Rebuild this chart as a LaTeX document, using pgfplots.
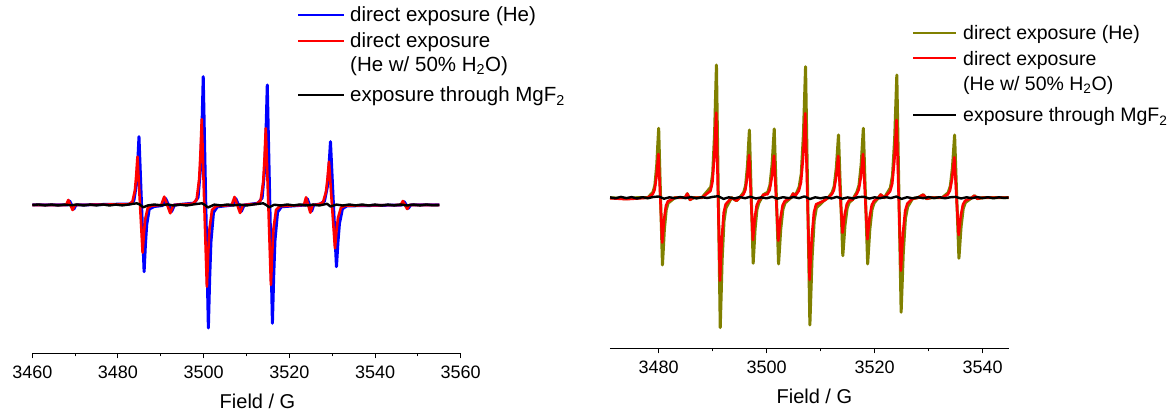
\documentclass[border=0pt]{standalone}
\usepackage{fontspec}
\setmainfont{Liberation Sans}
\usepackage{pgfplots}
\pgfplotsset{compat=1.18}
\definecolor{eblue}{RGB}{0,0,255}
\definecolor{ered}{RGB}{255,0,0}
\definecolor{eolive}{RGB}{128,128,0}
\pgfplotsset{eprax/.style={
  scale only axis, anchor=south west,
  axis x line*=bottom, hide y axis,
  axis line style={line width=1pt, black},
  tick align=outside, major tick length=5pt, minor tick length=3pt,
  every tick/.style={line width=1pt, black},
  minor x tick num=1,
  xticklabel style={font=\fontsize{18}{20}\selectfont, yshift=-4pt},
  /pgf/number format/assume math mode=true,
  /pgf/number format/1000 sep={},
  xlabel={Field / G},
  every axis plot/.append style={line join=round},
  clip=false,
}}
\begin{document}
\begin{tikzpicture}
\useasboundingbox (0,0) rectangle (1171pt,411pt);
% ---------------- left panel ----------------
\begin{axis}[eprax,
  at={(32.3pt,57.7pt)}, width=428.4pt, height=343.3pt,
  xmin=3460, xmax=3560, ymin=-148.3, ymax=195,
  xtick={3460,3480,3500,3520,3540,3560},
  xlabel style={font=\fontsize{20}{24}\selectfont, at={(axis description cs:0.5257,0)}, anchor=base, yshift=-55.7pt},
]
\addplot[eblue, line width=3pt] coordinates {
(3460,0) (3468.2,0) (3468.7,4) (3469.2,0) (3469.7,-4) (3470.2,0)
(3482.8,1.0) (3483.7,4.1) (3484.3,20.5) (3484.6,41.0) (3484.9,68.3) (3485.5,0) (3486.1,-66.7) (3486.4,-40.0) (3486.7,-20.0) (3487.3,-4.0) (3488.5,-1.5)
(3490.4,-0.5) (3491.1,6.6) (3491.8,0) (3492.5,-6.6) (3493.2,0)
(3497.8,1.9) (3498.7,7.7) (3499.3,38.5) (3499.6,77.0) (3499.9,128.3) (3500.5,0) (3501.1,-123) (3501.4,-73.8) (3501.7,-36.9) (3502.3,-7.4) (3503.2,-1.8)
(3506.85,0) (3507.5,6.4) (3508.15,0) (3508.8,-6.4) (3509.45,0)
(3512.75,1.8) (3513.65,7.2) (3514.25,36) (3514.55,72) (3514.85,120) (3515.45,0) (3516.05,-118.3) (3516.35,-71) (3516.65,-35.5) (3517.25,-7.1) (3518.15,-1.8)
(3523.7,0) (3524.2,6.2) (3524.7,0) (3525.2,-6.2) (3525.7,0)
(3527.15,0.9) (3528.2,3.8) (3528.9,19.0) (3529.25,38.0) (3529.6,63.3) (3530.3,0) (3531.0,-61.7) (3531.35,-37.0) (3531.7,-18.5) (3532.4,-3.7) (3533.45,-0.9)
(3546.3,0) (3546.8,3.2) (3547.3,0) (3547.8,-3.2) (3548.3,0) (3555,0)
};
\addplot[ered, line width=2.6pt] coordinates {
(3460,0) (3467.9,0) (3468.4,5) (3468.9,0) (3469.4,-5) (3469.9,0)
(3482.45,0.7) (3483.35,2.9) (3483.95,14.5) (3484.25,29.0) (3484.55,48.3) (3485.15,0) (3485.75,-47.7) (3486.05,-28.6) (3486.35,-14.3) (3486.95,-2.9) (3487.85,-0.7)
(3490.1,0) (3490.8,8.3) (3491.5,0) (3492.2,-8.3) (3492.9,0)
(3497.45,1.3) (3498.35,5.1) (3498.95,25.7) (3499.25,51.4) (3499.55,85.7) (3500.15,0) (3500.75,-81.7) (3501.05,-49.0) (3501.35,-24.5) (3501.95,-4.9) (3502.85,-1.2)
(3506.55,0) (3507.2,8) (3507.85,0) (3508.5,-8) (3509.15,0)
(3512.4,1.2) (3513.3,4.6) (3513.9,23.0) (3514.2,46.0) (3514.5,76.7) (3515.1,0) (3515.7,-80) (3516.0,-48) (3516.3,-24) (3516.9,-4.8) (3517.8,-1.2)
(3523.4,0) (3523.9,7.7) (3524.4,0) (3524.9,-7.7) (3525.4,0)
(3526.8,0.6) (3527.85,2.6) (3528.55,13.0) (3528.9,26.0) (3529.25,43.3) (3529.95,0) (3530.65,-43.3) (3531.0,-26.0) (3531.35,-13.0) (3532.05,-2.6) (3533.1,-0.6)
(3546,0) (3546.5,4) (3547,0) (3547.5,-4) (3548,0) (3555,0)
};
\addplot[black, line width=2.4pt] coordinates {
(3460,0) (3461.5,0.5) (3463,-0.4) (3464.5,0.5) (3466,-0.5) (3467.5,0.4) (3469,-0.3) (3470.5,0.5) (3472,-0.5) (3473.5,0.4) (3475,-0.4) (3476.5,0.5) (3478,-0.5) (3479.5,0.4) (3481,-0.4) (3482.5,0.5)
(3484.4,1.7) (3485.1,0.5) (3485.9,-2.3) (3487,-0.4) (3488.5,0.5) (3490,-0.4) (3491.5,0.6) (3493,-0.5) (3494.5,0.4) (3496,-0.5) (3497.5,0.5)
(3499.6,1.7) (3500.3,0) (3501,-2.5) (3502.5,0.4) (3504,-0.5) (3505.5,0.5) (3507,-0.4) (3508.5,0.4) (3510,-0.5) (3511.5,0.5)
(3513.9,1.7) (3514.6,0) (3515.3,-2.3) (3516.5,0.3) (3518,-0.5) (3519.5,0.5) (3521,-0.4) (3522.5,0.5) (3524,-0.5) (3525.5,0.4) (3527,-0.5)
(3528.8,1.2) (3529.6,-1.5) (3531,0.4) (3532.5,-0.5) (3534,0.5) (3535.5,-0.4) (3537,0.5) (3538.5,-0.5) (3540,0.4) (3541.5,-0.5) (3543,0.4) (3544.5,-0.4) (3546,0.5) (3547.5,-0.5) (3549,0.4) (3550.5,-0.4) (3552,0.5) (3553.5,-0.3) (3555,0)
};
\end{axis}
% ---------------- right panel ----------------
\begin{axis}[eprax,
  at={(609.8pt,62.7pt)}, width=398.8pt, height=338.3pt,
  xmin=3470.95, xmax=3544.8, ymin=-150.6, ymax=187.7,
  xtick={3480,3500,3520,3540},
  xlabel style={font=\fontsize{20}{24}\selectfont, at={(axis description cs:0.513,0)}, anchor=base, yshift=-55.7pt},
]
\addplot[eolive, line width=3pt] coordinates {
(3471,0) (3474,-1) (3476,0) (3478,0)
(3478.95,5.6) (3479.3,12.5) (3479.65,33.3) (3479.82,51.4) (3480.0,69.4) (3480.35,0) (3480.7,-67.3) (3480.88,-49.8) (3481.05,-32.3) (3481.4,-12.1) (3481.75,-5.4)
(3483,0) (3484.9,0) (3485.3,4) (3485.8,-2) (3486.5,0) (3488,0)
(3489.65,10.6) (3490.0,23.9) (3490.35,63.7) (3490.52,98.2) (3490.7,132.7) (3491.05,0) (3491.4,-130) (3491.58,-96.2) (3491.75,-62.4) (3492.1,-23.4) (3492.45,-10.4)
(3493.5,0) (3494.4,-3) (3495.0,0)
(3495.75,5.4) (3496.1,12.2) (3496.45,32.5) (3496.62,50.1) (3496.8,67.7) (3497.15,0) (3497.5,-65.6) (3497.68,-48.5) (3497.85,-31.5) (3498.2,-11.8) (3498.55,-5.2)
(3499.4,3)
(3500.2,5.5) (3500.6,12.4) (3501.0,33.0) (3501.2,50.8) (3501.4,68.7) (3501.8,0) (3502.2,-66.3) (3502.4,-49.1) (3502.6,-31.8) (3503.0,-11.9) (3503.4,-5.3)
(3504.5,0) (3504.9,4) (3505.3,2)
(3506.0,10.5) (3506.4,23.6) (3506.8,62.9) (3507.0,96.9) (3507.2,131) (3507.6,0) (3508.0,-127.3) (3508.2,-94.2) (3508.4,-61.1) (3508.8,-22.9) (3509.2,-10.2)
(3510.6,-3) (3511.4,0)
(3512.1,5.0) (3512.5,11.3) (3512.9,30.1) (3513.1,46.4) (3513.3,62.7) (3513.7,0) (3514.1,-58) (3514.3,-42.9) (3514.5,-27.8) (3514.9,-10.4) (3515.3,-4.6)
(3515.9,-2)
(3516.7,5.6) (3517.1,12.5) (3517.5,33.3) (3517.7,51.4) (3517.9,69.4) (3518.3,0) (3518.7,-66.3) (3518.9,-49.1) (3519.1,-31.8) (3519.5,-11.9) (3519.9,-5.3)
(3520.7,0) (3521.1,3) (3521.8,0)
(3522.9,9.8) (3523.3,22.1) (3523.7,58.9) (3523.9,90.8) (3524.1,122.7) (3524.5,0) (3524.9,-114.6) (3525.1,-84.8) (3525.3,-55.0) (3525.7,-20.6) (3526.1,-9.2)
(3527,-1) (3528,0) (3529,3) (3529.6,-1) (3530.5,0) (3532.5,0)
(3533.6,5.0) (3534.0,11.3) (3534.4,30.1) (3534.6,46.4) (3534.8,62.7) (3535.2,0) (3535.6,-60.6) (3535.8,-44.8) (3536.0,-29.1) (3536.4,-10.9) (3536.8,-4.8)
(3538,0) (3538.5,2) (3539,-1) (3540,0) (3544.8,0)
};
\addplot[ered, line width=2.6pt] coordinates {
(3471,-0.5) (3474,-1.5) (3476,-0.8) (3478,0)
(3478.9,3.5) (3479.25,7.9) (3479.6,21.0) (3479.77,32.3) (3479.95,43.7) (3480.3,0) (3480.65,-44.9) (3480.83,-33.2) (3481.0,-21.6) (3481.35,-8.1) (3481.7,-3.6)
(3483,0) (3484.9,0) (3485.3,4) (3485.8,-2) (3486.5,0) (3488,0)
(3489.6,6.8) (3489.95,15.3) (3490.3,40.8) (3490.47,62.9) (3490.65,85) (3491.0,0) (3491.35,-83) (3491.53,-61.4) (3491.7,-39.8) (3492.05,-14.9) (3492.4,-6.6)
(3493.5,0) (3494.4,-3) (3495.0,0)
(3495.7,3.4) (3496.05,7.7) (3496.4,20.5) (3496.57,31.6) (3496.75,42.7) (3497.1,0) (3497.45,-42.3) (3497.63,-31.3) (3497.8,-20.3) (3498.15,-7.6) (3498.5,-3.4)
(3499.4,3)
(3500.15,3.4) (3500.55,7.6) (3500.95,20.2) (3501.15,31.1) (3501.35,42) (3501.75,0) (3502.15,-43) (3502.35,-31.8) (3502.55,-20.6) (3502.95,-7.7) (3503.35,-3.4)
(3504.5,0) (3504.9,4) (3505.3,2)
(3505.95,6.8) (3506.35,15.2) (3506.75,40.5) (3506.95,62.5) (3507.15,84.4) (3507.55,0) (3507.95,-82.3) (3508.15,-60.9) (3508.35,-39.5) (3508.75,-14.8) (3509.15,-6.6)
(3510.6,-3) (3511.4,0)
(3512.05,3.3) (3512.45,7.5) (3512.85,20.0) (3513.05,30.9) (3513.25,41.7) (3513.65,0) (3514.05,-35) (3514.25,-25.9) (3514.45,-16.8) (3514.85,-6.3) (3515.25,-2.8)
(3515.9,-2)
(3516.65,3.5) (3517.05,7.9) (3517.45,21.0) (3517.65,32.3) (3517.85,43.7) (3518.25,0) (3518.65,-41.6) (3518.85,-30.8) (3519.05,-20.0) (3519.45,-7.5) (3519.85,-3.3)
(3520.7,0) (3521.1,3) (3521.8,0)
(3522.85,6.2) (3523.25,14.0) (3523.65,37.3) (3523.85,57.5) (3524.05,77.7) (3524.45,0) (3524.85,-73) (3525.05,-54.0) (3525.25,-35.0) (3525.65,-13.1) (3526.05,-5.8)
(3527,-1) (3528,0) (3529,3) (3529.6,-1) (3530.5,0) (3532.5,0)
(3533.55,3.2) (3533.95,7.3) (3534.35,19.4) (3534.55,29.9) (3534.75,40.4) (3535.15,0) (3535.55,-37.3) (3535.75,-27.6) (3535.95,-17.9) (3536.35,-6.7) (3536.75,-3.0)
(3538,0) (3538.5,2) (3539,-1) (3540,0) (3544.8,0)
};
\addplot[black, line width=2.4pt] coordinates {
(3471,0.3) (3472,-0.6) (3473,0.8) (3474,-0.4) (3475,0.6) (3476,-0.8) (3477,0.5) (3478,-0.5) (3479,0.7) (3480,1.2) (3481,-1.0) (3482,0.4) (3483,-0.6) (3484,0.7) (3485,-0.4) (3486,0.6) (3487,-0.7) (3488,0.5) (3489,-0.3) (3490,0.8) (3491,1.5) (3492,-1.2) (3493,0.4) (3494,-0.8) (3495,0.6) (3496,-0.5) (3497,1.0) (3498,-0.8) (3499,0.3) (3500,-0.6) (3501,0.9) (3502,-1.0) (3503,0.5) (3504,-0.4) (3505,0.6) (3506,-0.5) (3507,1.3) (3508,-1.4) (3509,0.4) (3510,-0.6) (3511,0.5) (3512,-0.7) (3513,0.8) (3514,-1.0) (3515,0.3) (3516,-0.8) (3517,0.6) (3518,0.9) (3519,-0.9) (3520,0.4) (3521,-0.5) (3522,0.6) (3523,-0.4) (3524,1.1) (3525,-1.2) (3526,0.5) (3527,-0.6) (3528,0.4) (3529,-0.5) (3530,0.6) (3531,-0.4) (3532,0.5) (3533,-0.6) (3534,0.4) (3535,0.8) (3536,-0.8) (3537,0.4) (3538,-0.5) (3539,0.6) (3540,-0.4) (3541,0.5) (3542,-0.6) (3543,0.4) (3544,-0.3) (3544.8,0.2)
};
\end{axis}
% ---------------- legends ----------------
\begin{scope}[every node/.style={font=\fontsize{20.5}{24}\selectfont, anchor=base west, inner sep=0pt}]
\draw[eblue, line width=2pt] (298.3pt,396pt) -- (344pt,396pt);
\node at (350pt,389.3pt) {direct exposure (He)};
\draw[ered, line width=2pt] (298.3pt,370.3pt) -- (344pt,370.3pt);
\node at (350pt,363.3pt) {direct exposure};
\node at (350pt,339.3pt) {(He w/ 50\% H\textsubscript{2}O)};
\draw[black, line width=2pt] (298.3pt,316pt) -- (344pt,316pt);
\node at (350pt,309pt) {exposure through MgF\textsubscript{2}};
\end{scope}
\begin{scope}[every node/.style={font=\fontsize{19.5}{23}\selectfont, anchor=base west, inner sep=0pt}]
\draw[eolive, line width=2pt] (913pt,378.3pt) -- (956pt,378.3pt);
\node at (963pt,371pt) {direct exposure (He)};
\draw[ered, line width=2pt] (913pt,352.7pt) -- (956pt,352.7pt);
\node at (963pt,345.3pt) {direct exposure};
\node at (963pt,320.3pt) {(He w/ 50\% H\textsubscript{2}O)};
\draw[black, line width=2pt] (913pt,296pt) -- (956pt,296pt);
\node at (963pt,289pt) {exposure through MgF\textsubscript{2}};
\end{scope}
\end{tikzpicture}
\end{document}
